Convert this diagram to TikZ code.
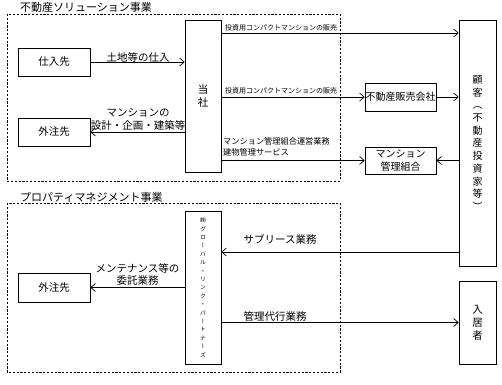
\documentclass[tikz,border=0pt]{standalone}
\usepackage{fontspec}
\setmainfont{Noto Sans CJK JP}
\newfontfamily\jpv[RawFeature=+vert]{Noto Sans CJK JP}
\usetikzlibrary{arrows.meta}
\tikzset{
  box/.style={draw, line width=0.7pt, inner sep=0pt, font=\fontsize{10.5}{12}\selectfont},
  grp/.style={draw, dashed, dash pattern=on 2.2pt off 1.6pt, line width=0.7pt},
  arr/.style={line width=0.7pt, -{Straight Barb[length=4.5pt,width=8pt,line width=0.7pt]}},
  lbl/.style={inner sep=0pt, font=\fontsize{10.5}{12}\selectfont},
  slbl/.style={inner sep=0pt, anchor=west, font=\fontsize{7}{8}\selectfont},
  mlbl/.style={inner sep=0pt, anchor=west, font=\fontsize{8.2}{10}\selectfont},
  ttl/.style={inner sep=0pt, anchor=west, font=\fontsize{11}{12}\selectfont},
}
\begin{document}
\begin{tikzpicture}[x=1pt,y=-1pt]
\useasboundingbox (0,0) rectangle (502,384);
% group frames
\draw[grp] (7,14) rectangle (340,181);
\draw[grp] (7,203) rectangle (340,372);
\node[ttl] (t1) at (20,7) {不動産ソリューション事業};
\node[ttl] (t2) at (20,197) {プロパティマネジメント事業};
% boxes
\node[box, minimum width=72pt, minimum height=28pt] (shiire) at (54,62) {仕入先};
\node[box, minimum width=72pt, minimum height=28pt] (gai1) at (54,132) {外注先};
\node[box, minimum width=36pt, minimum height=152pt, align=center, font=\fontsize{10.5}{13}\selectfont] (tosha) at (203,96) {当\\社};
\node[box, minimum width=37pt, minimum height=246pt, align=center, font=\jpv\fontsize{10}{12.7}\selectfont] (kokyaku) at (477.5,143) {顧\\客\\（\\不\\動\\産\\投\\資\\家\\等\\）};
\node[box, minimum width=71pt, minimum height=28pt, font=\fontsize{10}{12}\selectfont] (hanbai) at (400.5,97) {不動産販売会社};
\node[box, minimum width=71pt, minimum height=27pt, align=center, font=\fontsize{10}{12.5}\selectfont] (kumiai) at (400.5,160.5) {マンション\\管理組合};
\node[box, minimum width=36pt, minimum height=153pt, align=center, font=\jpv\fontsize{5.8}{8.4}\selectfont] (glp) at (203,287.5) {㈱\\グ\\ロ\\ー\\バ\\ル\\・\\リ\\ン\\ク\\・\\パ\\ー\\ト\\ナ\\ー\\ズ};
\node[box, minimum width=72pt, minimum height=29pt] (gai2) at (54,287.5) {外注先};
\node[box, minimum width=37pt, minimum height=83pt, align=center, font=\fontsize{10.5}{13}\selectfont] (nyukyo) at (477.5,322.5) {入\\居\\者};
% helper coordinates for connector heights
\coordinate (y1) at (0,33);
\coordinate (y5) at (0,252);
% connectors
\draw[arr] (shiire.east) -- (tosha.west |- shiire.east);
\draw[arr] (tosha.west |- gai1.east) -- (gai1.east);
\draw[arr] (tosha.east |- y1) -- (kokyaku.west |- y1);
\draw[arr] (tosha.east |- hanbai.west) -- (hanbai.west);
\draw[arr] (hanbai.east) -- (kokyaku.west |- hanbai.east);
\draw[arr] (tosha.east |- kumiai.west) -- (kumiai.west);
\draw[arr] (kokyaku.west |- kumiai.east) -- (kumiai.east);
\draw[arr] (glp.west |- gai2.east) -- (gai2.east);
\draw[arr] (kokyaku.west |- y5) -- (glp.east |- y5);
\draw[arr] (glp.east |- nyukyo.west) -- (nyukyo.west);
% labels
\node[lbl] (l1) at (138,57) {土地等の仕入};
\node[lbl, align=center, font=\fontsize{10.5}{13}\selectfont] (l2) at (138,119.5) {マンションの\\設計・企画・建築等};
\node[slbl] (l3) at (225,27.5) {投資用コンパクトマンションの販売};
\node[slbl] (l4) at (225,91) {投資用コンパクトマンションの販売};
\node[mlbl, align=left, font=\fontsize{8.2}{11}\selectfont] (l5) at (223,146.5) {マンション管理組合運営業務\\建物管理サービス};
\node[lbl, align=center, font=\fontsize{10.5}{12}\selectfont] (l6) at (137.5,274) {メンテナンス等の\\委託業務};
\node[lbl] (l7) at (280,239) {サブリース業務};
\node[lbl] (l8) at (275,316) {管理代行業務};
\end{tikzpicture}
\end{document}
